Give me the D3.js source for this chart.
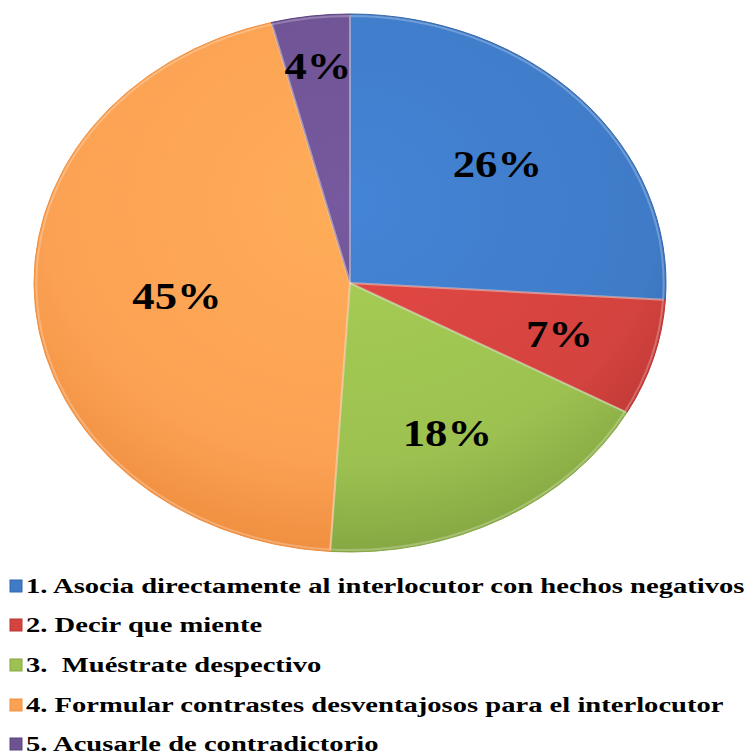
<!DOCTYPE html>
<html>
<head>
<meta charset="utf-8">
<script src="https://cdn.jsdelivr.net/npm/d3@7"></script>
<style>
  body { margin: 0; background: #fff; }
</style>
</head>
<body>
<script>
//Data
var categories = ["1. Asocia directamente al interlocutor con hechos negativos",
                  "2. Decir que miente",
                  "3.  Muéstrate despectivo",
                  "4. Formular contrastes desventajosos para el interlocutor",
                  "5. Acusarle de contradictorio"];
var values = [26, 7, 18, 45, 4];
var labels = ["26%", "7%", "18%", "45%", "4%"];

//Styling
var colors = ["#3f7bc7", "#d4433f", "#9cc150", "#fba153", "#6e5393"];
var darks  = ["#3566a8", "#b83633", "#86a843", "#f08f40", "#5b4280"];
var labelRadius = [0.64, 0.69, 0.64, 0.55, 0.81];
var fontFamily = "'Liberation Serif', Tinos, 'Times New Roman', serif";

var width = 749, height = 755,
    cx = 350, cy = 283, rx = 316, ry = 269,
    sx = rx / ry;

var svg = d3.select("body").append("svg")
    .attr("width", width)
    .attr("height", height);

var defs = svg.append("defs");
colors.forEach(function(c, i) {
  var grad = defs.append("radialGradient")
      .attr("id", "g" + i)
      .attr("gradientUnits", "userSpaceOnUse")
      .attr("cx", 0).attr("cy", -ry * 0.3).attr("r", ry * 1.3);
  grad.append("stop").attr("offset", "0%").attr("stop-color", d3.color(c).brighter(0.2));
  grad.append("stop").attr("offset", "75%").attr("stop-color", c);
  grad.append("stop").attr("offset", "100%").attr("stop-color", darks[i]);
});

var pie = d3.pie().sort(null).value(function(d) { return d; });
var arcs = pie(values);
var arc = d3.arc().innerRadius(0).outerRadius(ry);

//Pie, stretched to an ellipse
var g = svg.append("g")
    .attr("transform", "translate(" + cx + "," + cy + ") scale(" + sx + ",1)");

g.selectAll(".slice")
    .data(arcs)
    .enter().append("path")
      .attr("class", "slice")
      .attr("d", arc)
      .attr("fill", function(d, i) { return "url(#g" + i + ")"; })
      .attr("stroke", function(d, i) { return darks[i]; })
      .attr("stroke-width", 1)
      .attr("vector-effect", "non-scaling-stroke");

//inner bevel highlight
g.selectAll(".bevel")
    .data(arcs)
    .enter().append("path")
      .attr("class", "bevel")
      .attr("d", d3.arc().innerRadius(0).outerRadius(ry - 2))
      .attr("fill", "none")
      .attr("stroke", "#fff")
      .attr("stroke-opacity", 0.25)
      .attr("stroke-width", 2)
      .attr("vector-effect", "non-scaling-stroke");

//Percent labels
svg.selectAll(".pct")
    .data(arcs)
    .enter().append("text")
      .attr("class", "pct")
      .attr("text-anchor", "middle")
      .attr("font-family", fontFamily)
      .attr("font-weight", "bold")
      .attr("font-size", 38)
      .attr("fill", "#000")
      .attr("transform", function(d, i) {
        var a = (d.startAngle + d.endAngle) / 2,
            r = labelRadius[i];
        var x = cx + Math.sin(a) * r * rx,
            y = cy - Math.cos(a) * r * ry + 12;
        return "translate(" + x + "," + y + ") scale(" + sx + ",1)";
      })
      .text(function(d, i) { return labels[i]; });

//Legend
var legendY = [593, 632, 672, 712, 751];
var leg = svg.selectAll(".legend")
    .data(categories)
    .enter().append("g")
      .attr("class", "legend")
      .attr("transform", function(d, i) { return "translate(0," + legendY[i] + ")"; });

leg.append("rect")
    .attr("x", 10).attr("y", -13)
    .attr("width", 12).attr("height", 12)
    .attr("fill", function(d, i) { return colors[i]; })
    .attr("stroke", function(d, i) { return darks[i]; })
    .attr("stroke-width", 1);

var legText = leg.append("text")
    .attr("font-family", fontFamily)
    .attr("font-weight", "bold")
    .attr("font-size", 21)
    .attr("fill", "#000")
    .style("white-space", "pre")
    .text(function(d) { return d; });

//fit the first entry to the width it has in the chart
var L = legText.node().getComputedTextLength();
var lsx = 719 / L;
legText.attr("transform", "translate(26,0) scale(" + lsx + ",1)");
</script>
</body>
</html>
